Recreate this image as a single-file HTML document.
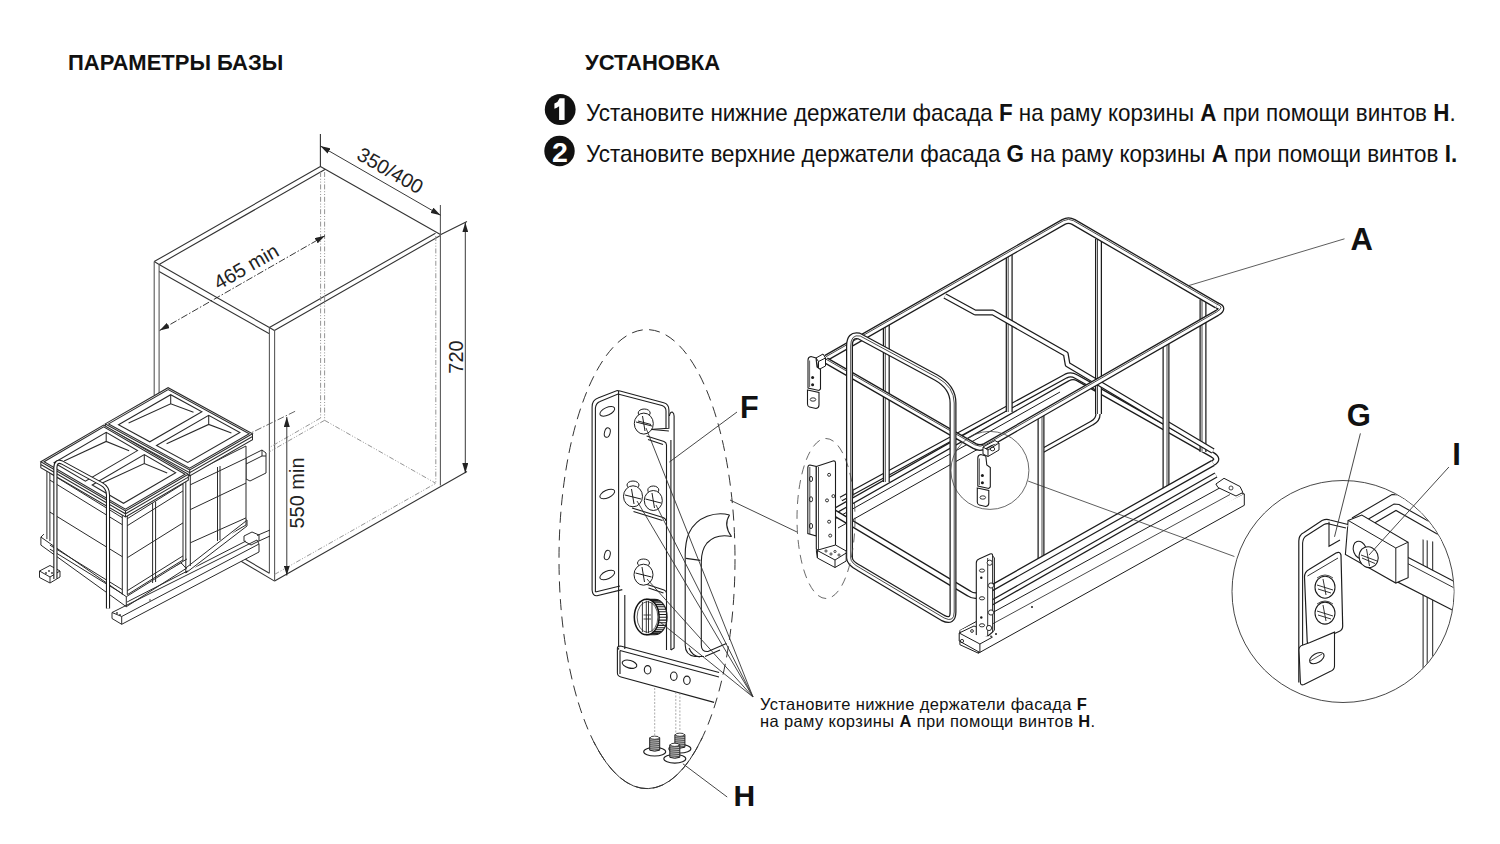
<!DOCTYPE html>
<html><head><meta charset="utf-8">
<style>
html,body{margin:0;padding:0;background:#fff;}
body{width:1500px;height:844px;position:relative;overflow:hidden;font-family:"Liberation Sans",sans-serif;color:#111;}
.t{position:absolute;white-space:nowrap;line-height:1;}
.h{font-weight:bold;font-size:22px;}
.l{font-size:23.2px;transform:scaleX(0.967);transform-origin:0 0;}
svg{position:absolute;left:0;top:0;}
</style></head><body>
<div class="t h" style="left:68px;top:52px;">ПАРАМЕТРЫ БАЗЫ</div>
<div class="t h" style="left:585px;top:52px;">УСТАНОВКА</div>
<div class="t l" style="left:586px;top:101.5px;">Установите нижние держатели фасада <b>F</b> на раму корзины <b>A</b> при помощи винтов <b>H</b>.</div>
<div class="t l" style="left:586px;top:143px;">Установите верхние держатели фасада <b>G</b> на раму корзины <b>A</b> при помощи винтов <b>I.</b></div>
<svg width="1500" height="844" viewBox="0 0 1500 844" font-family="Liberation Sans, sans-serif">
<defs>
<marker id="ar" viewBox="0 0 10 6" refX="10" refY="3" markerWidth="10" markerHeight="6" markerUnits="userSpaceOnUse" orient="auto-start-reverse"><path d="M0,0 L10,3 L0,6z" fill="#222"/></marker>
</defs>
<!-- number circles -->
<circle cx="560.2" cy="109.5" r="15.4" fill="#111"/>
<path d="M559.6,98.2 H564.6 V120.1 H559.1 V106.2 Q557,108 554.4,108.8 V103.6 Q558.3,102 559.6,98.2 Z" fill="#fff"/>
<circle cx="559.5" cy="151" r="15.2" fill="#111"/>
<text x="559.9" y="161.6" font-size="28.5" font-weight="bold" fill="#fff" text-anchor="middle">2</text>

<!-- ============ CABINET ============ -->
<g id="cab" stroke="#333" stroke-width="1.1" fill="none">
<path d="M154.2,261.6 L320.4,166.4 M159.1,264.4 L324.9,169.6 M154.2,261.6 L159.1,264.4 L269.4,327.6 L274.4,330.5 M159.1,271.4 L269.4,333.8
 M269.4,327.6 L435.5,233.2 M274.4,330.5 L440.4,235.5 M320.4,166.4 L440.4,234.5

 M274.6,581.1 L467,471.5
 M274.6,581.1 L239,560 M269.4,573.3 L245,559
 M320.4,134 V166.4
 M440.4,234.8 L467,221.5
"/>
</g>
<g stroke="#5a5a5a" stroke-width="1.1" fill="none"><path d="M154.2,261.6 V395 M159.1,264.4 V395 M269.4,327.6 V573.3 M274.6,330.5 V581.1 M440.4,205 V485.5"/></g>
<g stroke="#8f8f8f" stroke-width="0.95" fill="none" stroke-dasharray="5,1.8,1,1.8,1,1.8">
<path d="M320.6,172 V418 M324.6,172 V420.3 M324.6,420.3 L435.8,483.3 M324.6,420.3 L269.4,451.8 M320.6,418 L269.4,447.5 M274.6,574.4 L435.8,483.3 M435.8,236 V483.3"/>
</g>
<!-- dimensions -->
<g stroke="#222" stroke-width="0.9" fill="none">
<line x1="320.4" y1="146" x2="440.6" y2="215.3" marker-start="url(#ar)" marker-end="url(#ar)"/>
<line x1="465.3" y1="222.4" x2="465.3" y2="473.1" marker-start="url(#ar)" marker-end="url(#ar)"/>
<line x1="286.8" y1="416.9" x2="286.8" y2="575.5" marker-start="url(#ar)" marker-end="url(#ar)"/>
<line x1="159.6" y1="330.5" x2="324.9" y2="235.8" stroke-dasharray="7,2,1.5,2" marker-start="url(#ar)" marker-end="url(#ar)"/>
<path d="M295.1,411.3 L240,438.3" stroke-dasharray="7,2,1.5,2" stroke="#555"/>
</g>
<g fill="#222" font-size="20">
<text transform="translate(389.5,172) rotate(29.8)" text-anchor="middle" dominant-baseline="middle">350/400</text>
<text transform="translate(247,268) rotate(-29.8)" text-anchor="middle" dominant-baseline="middle">465 min</text>
<text transform="translate(457.3,357) rotate(-90)" text-anchor="middle" dominant-baseline="middle">720</text>
<text transform="translate(298.5,493) rotate(-90)" text-anchor="middle" dominant-baseline="middle">550 min</text>
</g>
<path d="M112,612.5 L257,540 L259,544 L121.7,616.5 L121.7,624.3 L112,618.5 Z M112,612.5 L121.7,616.5 M121.7,624.3 L259,552 V544 M127,602 L246,541 M244,536 L252,532 L259,535 L259,541 L251,545 L244,541 Z M257,535.5 L270,530 M259,541 L270,536 M39.5,571 L50,565.5 L60,571 L60,577 L50,583 L39.5,577.5 Z M39.5,571 L50,577 L60,571 M50,577 V583 M246,458 L262,450 L266,453 L266,473 L250,481 L246,479 Z M246,464 L262,456 L266,456 M262,456 V450 M124,596 L246,525 L246,519" fill="#fff" stroke="#2a2a2a" stroke-width="1"/>
<g fill="#333"><circle cx="49" cy="571" r="0.9"/><circle cx="52" cy="573" r="0.9"/><circle cx="46" cy="573" r="0.9"/><circle cx="117" cy="613" r="0.9"/><circle cx="120" cy="615" r="0.9"/><circle cx="150" cy="600" r="0.8"/></g>
<path d="M180.3,470 L190.3,474.0 L246.0,446.0 L246.0,521.0 L190.3,572 L180.3,566Z" fill="#fff" stroke="none"/>
<path d="M190.3,474.0 L246.0,446.0 V521 M190.3,474 V566 M185.8,478 V568 M181.3,480 V564 M190.3,484.8 L246,458.2 M190.3,509.6 L246,483.1 M190.3,542.8 L246,517.9 M181.3,563 L185.8,568 L246,521 M185.8,568 V573 L247,526 V520 M217.5,467 V541 M220,466 V540" fill="none" stroke="#2a2a2a" stroke-width="1"/>
<path d="M105.3,423.9 L168.1,387.7 L252.5,433.7 L252.5,439.7 L189.7,475.9 L105.3,429.9Z" fill="#fff" stroke="none"/>
<path d="M105.3,423.9 L168.1,387.7 L252.5,433.7 L189.7,469.9Z M108.6,423.9 L168.2,389.5 L249.2,433.7 L189.6,468.1Z M105.3,423.9 L105.3,429.9 L189.7,475.9 L252.5,439.7 L252.5,433.7 M105.3,426.7 L189.7,472.7 L252.5,436.5 M189.7,469.9 L189.7,475.9 M118.5,424.8 L170.7,394.7 L201.9,411.8 L149.8,441.8Z M128.6,423.0 L170.7,403.7 L193.5,412.2 M170.7,394.7 L170.7,403.7 M156.5,445.5 L208.7,415.4 L239.9,432.5 L187.8,462.5Z M166.6,443.7 L208.7,424.4 L231.4,432.9 M208.7,415.4 L208.7,424.4" fill="none" stroke="#2a2a2a" stroke-width="1.05"/>
<path d="M46.9,469.1 L125.3,514.7 L183.0,480.9 L183.0,560.9 L125.3,602.7 L42.9,545.1Z" fill="#fff" stroke="none"/>
<path d="M46.9,469.1 V539.1 M49.9,470.1 V541.1 M122.3,514.7 V594.7 M127.3,515.7 V594.7 M183.0,480.9 V560.9 M49.9,470.1 L122.3,514.7 M127.3,515.7 L183.0,480.9 M49.9,473.1 L122.3,517.7 M127.3,518.7 L183.0,483.9 M49.9,480.1 L122.3,524.7 M127.3,525.7 L183.0,490.9 M49.9,512.1 L122.3,556.7 M127.3,557.7 L183.0,522.9 M49.9,545.1 L122.3,589.7 M127.3,590.7 L183.0,555.9 M49.9,549.1 L122.3,593.7 M127.3,594.7 L183.0,559.9 M40.9,537.1 L126.3,596.7 L187.0,558.9 M40.9,537.1 V545.1 L126.3,606.7 L187.0,567.9 M126.3,596.7 V606.7 M43.9,534.1 L40.9,537.1 M152.6,503 V583 M155.6,501.5 V582" fill="none" stroke="#2a2a2a" stroke-width="1"/>
<path d="M40.8,461.7 L103.6,425.0 L188.3,474.3 L188.3,480.3 L125.5,517.0 L40.8,467.7Z" fill="#fff" stroke="none"/>
<path d="M40.8,461.7 L103.6,425.0 L188.3,474.3 L125.5,511.0Z M44.1,461.8 L103.7,426.9 L185.0,474.2 L125.4,509.1Z M40.8,461.7 L40.8,467.7 L125.5,517.0 L188.3,480.3 L188.3,474.3 M40.8,464.5 L125.5,513.8 L188.3,477.1 M125.5,511.0 L125.5,517.0 M54.1,462.8 L106.2,432.4 L137.5,450.6 L85.4,481.1Z M64.1,461.0 L106.2,441.4 L129.1,450.7 M106.2,432.4 L106.2,441.4 M92.2,485.0 L144.3,454.6 L175.7,472.8 L123.5,503.3Z M102.2,483.1 L144.3,463.6 L167.2,472.9 M144.3,454.6 L144.3,463.6" fill="none" stroke="#2a2a2a" stroke-width="1.05"/>
<path d="M55.4,579 V467.5 Q55.7,460 62,462.5 L101.5,484 Q108,487.5 108,495 V608.5" fill="none" stroke="#1e1e1e" stroke-width="4.2" stroke-linejoin="round"/>
<path d="M55.4,579 V467.5 Q55.7,460 62,462.5 L101.5,484 Q108,487.5 108,495 V608.5" fill="none" stroke="#fff" stroke-width="2.0" stroke-linejoin="round"/>
<g id="mid" fill="none" stroke="#1e1e1e" stroke-width="1.1">
<!-- dashed ellipse -->
<ellipse cx="647" cy="559.1" rx="88" ry="229.5" stroke="#333" stroke-width="1" stroke-dasharray="11,6.5"/>
<path d="M593.8,742 A88,229.5 0 0 0 702.1,738" stroke="#333" stroke-width="1" fill="none"/>
<!-- leader to basket ellipse -->
<path d="M730,500 L797,532" stroke="#333" stroke-width="0.9"/>
<!-- back facade profile (C-shape) -->
<g stroke-width="1.1">
<path d="M729.5,515 C716,511.5 697,516 689,533 Q685.2,542 685.2,555 V645 Q685.2,655 695,656.5 L704,656.5" fill="#fff"/>
<path d="M731.5,536.5 Q716,533.5 707,543 Q701.3,550 701.3,562 V645 Q701.3,652 708,651.5 L726.4,643.5"/>
<path d="M729.5,515 Q723,525 731.5,536.5" />
<path d="M686,558.4 L700.3,560.4" />
<path d="M689,648 Q692,656 700,657" />
<path d="M705,656.5 L720,650" />
</g>
<!-- lower bracket body -->
<path d="M624.8,595 V649 M670.9,440 V650" />
<!-- knob -->
<path d="M646.7,599.2 L654.7,599.2 A12.4,17.8 0 0 1 654.7,634.8 L646.7,634.8 Z" fill="#fff" stroke="#1e1e1e" stroke-width="1.1"/>
<path d="M648.9,599.5 L656.9,599.5 M650.7,600.2 L658.7,600.2 M652.5,601.3 L660.5,601.3 M654.2,602.8 L662.2,602.8 M655.6,604.6 L663.6,604.6 M656.9,606.8 L664.9,606.8 M657.8,609.2 L665.8,609.2 M658.6,611.8 L666.6,611.8 M659.0,614.5 L667.0,614.5 M659.1,617.3 L667.1,617.3 M658.9,620.1 L666.9,620.1 M658.4,622.8 L666.4,622.8 M657.6,625.4 L665.6,625.4 M656.6,627.7 L664.6,627.7 M655.3,629.8 L663.3,629.8 M653.8,631.6 L661.8,631.6 M652.1,633.0 L660.1,633.0 M650.3,634.0 L658.3,634.0" stroke="#1e1e1e" stroke-width="1.1"/>
<ellipse cx="646.7" cy="617" rx="12.4" ry="17.8" fill="#fff" stroke="#111" stroke-width="1.5"/>
<ellipse cx="647.5" cy="617" rx="10.4" ry="15.3" fill="none" stroke="#333" stroke-width="0.8"/>
<path d="M642.4,601.8 V632.2 M646.3,600.7 V633.3 M648.5,600.9 V633.1 M652,602.4 V631.6" stroke="#222" stroke-width="0.9"/>
<path d="M643.5,615 H651 M643.5,619 H651" stroke="#222" stroke-width="0.8"/>
<!-- left flange -->
<path d="M592.1,590 V407 Q592.1,400 598,398 L617.2,390.5 L620.1,391 L663.7,402.7 Q668.9,404 668.9,410 V428.3 L652.8,429.3 Q648,428 650,426" stroke-width="1.1" fill="#fff"/>
<path d="M595.4,592 V408 Q596,403 600,401.5 L618,394 L662,405.5 Q666,407 666,411 V428" />
<path d="M618.6,391 V650" stroke-width="1.1"/>
<path d="M592.1,590 Q592.5,596 597,595.8 L622.3,589.6 M595.4,592 L620,586" />
<!-- right flange lower parts -->
<path d="M652,429.5 L668.9,431 M646.6,435.9 L664,441.5 Q666.5,442.5 666.5,445 M648,439.5 L663,444.5" />
<path d="M666.5,445 V650" />
<path d="M632,508 L663,517.5 Q666,518.7 666,521 M633.5,511.5 L662.5,520.5" />
<path d="M647.2,584.6 L664,590 Q666.5,591 666.5,593 M648.5,588 L663.5,593" />
<path d="M669.4,416 Q670,412 672.2,412 Q674.1,413 674.1,416 V648 L670.9,650" />
<!-- slots/holes left flange -->
<g stroke-width="1">
<ellipse cx="607.3" cy="411.3" rx="8" ry="3.8" transform="rotate(-25 607.3 411.3)"/>
<ellipse cx="607.3" cy="432.6" rx="2.8" ry="4.8" transform="rotate(15 607.3 432.6)"/>
<ellipse cx="607.3" cy="494" rx="8" ry="3.8" transform="rotate(-25 607.3 494)"/>
<ellipse cx="607.3" cy="555" rx="2.8" ry="4.8" transform="rotate(15 607.3 555)"/>
<ellipse cx="607.3" cy="575" rx="8" ry="3.8" transform="rotate(-25 607.3 575)"/>
</g>
<!-- screws (phillips) -->
<g stroke-width="1">
<ellipse cx="644.2" cy="413" rx="6" ry="4"/>
<ellipse cx="643.8" cy="423.6" rx="9.5" ry="10.5" fill="#fff"/>
<path d="M636,422 L652,426 M642.5,416 L645,431 M638,421 L651,424.5" />
<ellipse cx="633" cy="485" rx="6" ry="4"/>
<ellipse cx="633" cy="496.3" rx="9.5" ry="10.5" fill="#fff"/>
<path d="M625,495 L641,499 M631.5,489 L634,504" />
<ellipse cx="653.3" cy="490" rx="5.5" ry="4"/>
<ellipse cx="653.3" cy="500.5" rx="9" ry="10" fill="#fff"/>
<path d="M645.5,499 L661,503 M652,493 L654.5,508" />
<ellipse cx="643.5" cy="563" rx="6" ry="4"/>
<ellipse cx="643.5" cy="574.7" rx="9.5" ry="10.5" fill="#fff"/>
<path d="M635.5,573 L651.5,577 M642,567 L644.5,582" />
</g>
<!-- bottom plate -->
<path d="M620.5,646 L719.1,672.5 M617.4,649 Q617,646 620.5,646 M617.4,649 V673 Q617.4,676 621,677 L714.1,702.4" stroke-width="1.1" fill="#fff"/>
<path d="M620,650.5 L719,677 M620,650.5 V674" />
<ellipse cx="629.5" cy="664.2" rx="7.5" ry="3.8" transform="rotate(15 629.5 664.2)"/>
<ellipse cx="647.6" cy="669.8" rx="3.3" ry="4.2"/>
<ellipse cx="673.8" cy="676.2" rx="3.3" ry="4.2"/>
<ellipse cx="686.9" cy="680.3" rx="3.3" ry="4.2"/>
<!-- dotted screw axes -->
<path d="M654.7,688 V735 M675.8,692 V740 M679.9,693 V731" stroke="#888" stroke-width="0.7" stroke-dasharray="2,1.5"/>
<!-- screws H -->
<ellipse cx="679.9" cy="748.7" rx="11" ry="4.3" fill="#fff" stroke="#1e1e1e" stroke-width="1.1"/>
<path d="M674.9,747.2 V734.7 Q679.9,732.2 684.9,734.7 V747.2 Q679.9,749.2 674.9,747.2 Z" fill="#bdbdbd" stroke="#1e1e1e" stroke-width="1"/>
<path d="M674.9,735.7 L684.9,736.5 M674.9,737.7 L684.9,738.5 M674.9,739.7 L684.9,740.5 M674.9,741.7 L684.9,742.5 M674.9,743.7 L684.9,744.5 M674.9,745.7 L684.9,746.5" stroke="#333" stroke-width="0.8"/>
<ellipse cx="679.9" cy="734.7" rx="4.3" ry="1.6" fill="#fff" stroke="#1e1e1e" stroke-width="0.8"/>
<ellipse cx="654.7" cy="751.7" rx="11" ry="4.3" fill="#fff" stroke="#1e1e1e" stroke-width="1.1"/>
<path d="M649.7,750.2 V737.7 Q654.7,735.2 659.7,737.7 V750.2 Q654.7,752.2 649.7,750.2 Z" fill="#bdbdbd" stroke="#1e1e1e" stroke-width="1"/>
<path d="M649.7,738.7 L659.7,739.5 M649.7,740.7 L659.7,741.5 M649.7,742.7 L659.7,743.5 M649.7,744.7 L659.7,745.5 M649.7,746.7 L659.7,747.5 M649.7,748.7 L659.7,749.5" stroke="#333" stroke-width="0.8"/>
<ellipse cx="654.7" cy="737.7" rx="4.3" ry="1.6" fill="#fff" stroke="#1e1e1e" stroke-width="0.8"/>
<ellipse cx="674.8" cy="758.8" rx="11" ry="4.3" fill="#fff" stroke="#1e1e1e" stroke-width="1.1"/>
<path d="M669.8,757.3 V744.8 Q674.8,742.3 679.8,744.8 V757.3 Q674.8,759.3 669.8,757.3 Z" fill="#bdbdbd" stroke="#1e1e1e" stroke-width="1"/>
<path d="M669.8,745.8 L679.8,746.5999999999999 M669.8,747.8 L679.8,748.5999999999999 M669.8,749.8 L679.8,750.5999999999999 M669.8,751.8 L679.8,752.5999999999999 M669.8,753.8 L679.8,754.5999999999999 M669.8,755.8 L679.8,756.5999999999999" stroke="#333" stroke-width="0.8"/>
<ellipse cx="674.8" cy="744.8" rx="4.3" ry="1.6" fill="#fff" stroke="#1e1e1e" stroke-width="0.8"/>
<!-- leaders -->
<g stroke="#333" stroke-width="0.9">
<path d="M669.3,462.1 L737,412"/>
<path d="M682.9,763.8 L727.2,797"/>
<path d="M646,428 L753,697 M637,501 L753,697 M656,505 L753,697 M647,579 L753,697 M660,622 L753,697"/>
</g>
</g>
<g fill="#111" font-family="Liberation Sans, sans-serif">
<text x="740" y="418.2" font-size="30.5" font-weight="bold">F</text>
<text x="733.5" y="806.3" font-size="30" font-weight="bold">H</text>
<text x="760" y="709.8" font-size="16.5" letter-spacing="0.37">Установите нижние держатели фасада <tspan font-weight="bold">F</tspan></text>
<text x="760" y="727.3" font-size="16.5" letter-spacing="0.37">на раму корзины <tspan font-weight="bold">A</tspan> при помощи винтов <tspan font-weight="bold">H</tspan>.</text>
</g>

<path d="M833,512 L1068,378.5 Q1073,376 1078,378.5 L1212,454.5 Q1220,459 1213,463" fill="none" stroke="#1c1c1c" stroke-width="6.21" stroke-linejoin="round" stroke-linecap="butt"/>
<path d="M833,512 L1068,378.5 Q1073,376 1078,378.5 L1212,454.5 Q1220,459 1213,463" fill="none" stroke="#fff" stroke-width="3.71" stroke-linejoin="round" stroke-linecap="butt"/>
<path d="M841,499 L1066,376 Q1071,373.5 1076,376.5 L1100,390" fill="none" stroke="#1c1c1c" stroke-width="5.40" stroke-linejoin="round" stroke-linecap="butt"/>
<path d="M841,499 L1066,376 Q1071,373.5 1076,376.5 L1100,390" fill="none" stroke="#fff" stroke-width="2.90" stroke-linejoin="round" stroke-linecap="butt"/>
<path d="M1098,414 Q1098,420 1092,423 L1040,452" fill="none" stroke="#1c1c1c" stroke-width="5.40" stroke-linejoin="round" stroke-linecap="butt"/>
<path d="M1098,414 Q1098,420 1092,423 L1040,452" fill="none" stroke="#fff" stroke-width="2.90" stroke-linejoin="round" stroke-linecap="butt"/>
<path d="M886.3,324 V482" fill="none" stroke="#1c1c1c" stroke-width="7.02" stroke-linejoin="round" stroke-linecap="butt"/>
<path d="M886.3,324 V482" fill="none" stroke="#fff" stroke-width="4.52" stroke-linejoin="round" stroke-linecap="butt"/>
<path d="M886.3,324 V482" transform="translate(-1,0)" fill="none" stroke="#1c1c1c" stroke-width="0.8" stroke-linejoin="round"/>
<path d="M1009.2,255 V412" fill="none" stroke="#1c1c1c" stroke-width="7.02" stroke-linejoin="round" stroke-linecap="butt"/>
<path d="M1009.2,255 V412" fill="none" stroke="#fff" stroke-width="4.52" stroke-linejoin="round" stroke-linecap="butt"/>
<path d="M1009.2,255 V412" transform="translate(-1,0)" fill="none" stroke="#1c1c1c" stroke-width="0.8" stroke-linejoin="round"/>
<path d="M1098.5,239 V414" fill="none" stroke="#1c1c1c" stroke-width="7.02" stroke-linejoin="round" stroke-linecap="butt"/>
<path d="M1098.5,239 V414" fill="none" stroke="#fff" stroke-width="4.52" stroke-linejoin="round" stroke-linecap="butt"/>
<path d="M1098.5,239 V414" transform="translate(-1,0)" fill="none" stroke="#1c1c1c" stroke-width="0.8" stroke-linejoin="round"/>
<path d="M1203,299.6 V452" fill="none" stroke="#1c1c1c" stroke-width="7.02" stroke-linejoin="round" stroke-linecap="butt"/>
<path d="M1203,299.6 V452" fill="none" stroke="#fff" stroke-width="4.52" stroke-linejoin="round" stroke-linecap="butt"/>
<path d="M1203,299.6 V452" transform="translate(-1,0)" fill="none" stroke="#1c1c1c" stroke-width="0.8" stroke-linejoin="round"/>
<path d="M826,358 L1063.5,222 Q1068.5,219.3 1073.5,222 L1217,305.5" fill="none" stroke="#1c1c1c" stroke-width="6.75" stroke-linejoin="round" stroke-linecap="butt"/>
<path d="M826,358 L1063.5,222 Q1068.5,219.3 1073.5,222 L1217,305.5" fill="none" stroke="#fff" stroke-width="4.25" stroke-linejoin="round" stroke-linecap="butt"/>
<path d="M826,358 L1063.5,222 Q1068.5,219.3 1073.5,222 L1217,305.5" transform="translate(0,-1.3)" fill="none" stroke="#1c1c1c" stroke-width="0.8" stroke-linejoin="round"/>
<path d="M944.9,296 L975.1,312.5 L992.9,312.5 L1065.8,354 L1067.6,364.5 L1213,451" fill="none" stroke="#1c1c1c" stroke-width="5.94" stroke-linejoin="round" stroke-linecap="butt"/>
<path d="M944.9,296 L975.1,312.5 L992.9,312.5 L1065.8,354 L1067.6,364.5 L1213,451" fill="none" stroke="#fff" stroke-width="3.44" stroke-linejoin="round" stroke-linecap="butt"/>
<path d="M833,520 L1060,392 M838,528 L1065,400" fill="none" stroke="#1c1c1c" stroke-width="1" />
<path d="M959.9,630.5 L1224.4,485.4 L1244.3,494 L978.4,640.4 Z" fill="#fff" stroke="#1c1c1c" stroke-width="1"/>
<path d="M959.9,630.5 V644.7 L978.4,653.2 L1244.3,505.3 V494 M978.4,640.4 V653.2" fill="#fff" stroke="#1c1c1c" stroke-width="1"/>
<path d="M985,628 L1230,494.5" fill="none" stroke="#1c1c1c" stroke-width="0.8" />
<path d="M1215.9,484 L1224,478.3 L1240,486.5 L1242.9,492.5 L1236,496 L1218,487.5 Z" fill="#fff" stroke="#1c1c1c" stroke-width="1"/>
<circle cx="1231" cy="488" r="2" fill="none" stroke="#1c1c1c" stroke-width="0.8"/>
<circle cx="1032" cy="607" r="1" fill="#1c1c1c"/>
<circle cx="991" cy="636.5" r="1" fill="#1c1c1c"/>
<circle cx="996" cy="634" r="1" fill="#1c1c1c"/>
<path d="M986,606 L1216,475" fill="none" stroke="#1c1c1c" stroke-width="5.67" stroke-linejoin="round" stroke-linecap="butt"/>
<path d="M986,606 L1216,475" fill="none" stroke="#fff" stroke-width="3.17" stroke-linejoin="round" stroke-linecap="butt"/>
<path d="M1041,413.6 V562" fill="none" stroke="#1c1c1c" stroke-width="7.02" stroke-linejoin="round" stroke-linecap="butt"/>
<path d="M1041,413.6 V562" fill="none" stroke="#fff" stroke-width="4.52" stroke-linejoin="round" stroke-linecap="butt"/>
<path d="M1041,413.6 V562" transform="translate(1,0)" fill="none" stroke="#1c1c1c" stroke-width="0.8" stroke-linejoin="round"/>
<path d="M1166,342 V490" fill="none" stroke="#1c1c1c" stroke-width="7.02" stroke-linejoin="round" stroke-linecap="butt"/>
<path d="M1166,342 V490" fill="none" stroke="#fff" stroke-width="4.52" stroke-linejoin="round" stroke-linecap="butt"/>
<path d="M1166,342 V490" transform="translate(1,0)" fill="none" stroke="#1c1c1c" stroke-width="0.8" stroke-linejoin="round"/>
<path d="M833,512 L969,593.5 Q975,597.5 981,594 L1213,463" fill="none" stroke="#1c1c1c" stroke-width="6.75" stroke-linejoin="round" stroke-linecap="butt"/>
<path d="M833,512 L969,593.5 Q975,597.5 981,594 L1213,463" fill="none" stroke="#fff" stroke-width="4.25" stroke-linejoin="round" stroke-linecap="butt"/>
<path d="M826,360.5 L974.5,446 Q980,449 985.5,446 L1217,313 Q1225,308 1217,305.5" fill="none" stroke="#1c1c1c" stroke-width="6.75" stroke-linejoin="round" stroke-linecap="butt"/>
<path d="M826,360.5 L974.5,446 Q980,449 985.5,446 L1217,313 Q1225,308 1217,305.5" fill="none" stroke="#fff" stroke-width="4.25" stroke-linejoin="round" stroke-linecap="butt"/>
<path d="M826,360.5 L974.5,446 Q980,449 985.5,446 L1217,313 Q1225,308 1217,305.5" transform="translate(0,-1.3)" fill="none" stroke="#1c1c1c" stroke-width="0.8" stroke-linejoin="round"/>
<path d="M849.5,558 V346 Q849.5,334 859,336 L936,377.5 Q953,387 953,403 V612 Q953,623 943,618 L859,568 Q849.5,563 849.5,558 Z" fill="none" stroke="#1c1c1c" stroke-width="7.02" stroke-linejoin="round" stroke-linecap="butt"/>
<path d="M849.5,558 V346 Q849.5,334 859,336 L936,377.5 Q953,387 953,403 V612 Q953,623 943,618 L859,568 Q849.5,563 849.5,558 Z" fill="none" stroke="#fff" stroke-width="4.52" stroke-linejoin="round" stroke-linecap="butt"/>
<path d="M849.5,558 V346 Q849.5,334 859,336 L936,377.5 Q953,387 953,403 V612 Q953,623 943,618 L859,568 Q849.5,563 849.5,558 Z" transform="translate(1.2,0)" fill="none" stroke="#1c1c1c" stroke-width="0.8" stroke-linejoin="round"/>
<path d="M816,358 L823,354 L825.5,358 V366 L818,370 Z M816,358 L818.5,361.5 L825.5,358 M818.5,361.5 V370" fill="#fff" stroke="#1c1c1c" stroke-width="1"/>
<path d="M808,388 V360 Q808,357 811,356.5 L816,358 L817,367 L820.5,369.5 V389 L819,390.5 Z" fill="#fff" stroke="#1c1c1c" stroke-width="1.1"/>
<path d="M809.6,387 V360.5" fill="none" stroke="#1c1c1c" stroke-width="0.7"/>
<path d="M807.5,390 L819,392.5 V405 Q819,408 816,408.5 L809.5,407 Q807.5,406.5 807.5,404 Z" fill="#fff" stroke="#1c1c1c" stroke-width="1.1"/>
<circle cx="812.6" cy="377.5" r="1.5" fill="#1c1c1c"/><circle cx="812.6" cy="384.7" r="1.5" fill="#1c1c1c"/>
<ellipse cx="813" cy="399.5" rx="2.8" ry="1.7" fill="none" stroke="#1c1c1c" stroke-width="0.9"/>
<path d="M977.8,486 V458 Q977.8,455 980.8,454.5 L985.8,456 L986.8,465 L990.3,467.5 V487 L988.8,488.5 Z" fill="#fff" stroke="#1c1c1c" stroke-width="1.1"/>
<path d="M979.4,485 V458.5" fill="none" stroke="#1c1c1c" stroke-width="0.7"/>
<path d="M977.3,488 L988.8,490.5 V503 Q988.8,506 985.8,506.5 L979.3,505 Q977.3,504.5 977.3,502 Z" fill="#fff" stroke="#1c1c1c" stroke-width="1.1"/>
<circle cx="982.4" cy="475.5" r="1.5" fill="#1c1c1c"/><circle cx="982.4" cy="482.7" r="1.5" fill="#1c1c1c"/>
<ellipse cx="982.8" cy="497.5" rx="2.8" ry="1.7" fill="none" stroke="#1c1c1c" stroke-width="0.9"/>
<path d="M983,447 L995,440.5 L999,443 V450 L988,456.5 L983,454 Z M983,447 L988,450 L999,443 M988,450 V456.5" fill="#fff" stroke="#1c1c1c" stroke-width="1"/>
<ellipse cx="992.5" cy="449" rx="2.2" ry="1.8" fill="none" stroke="#1c1c1c" stroke-width="0.9"/>
<path d="M807.8,468 Q807.8,465 810,465 L816.3,466.5 V536 L807.8,533.5 Z" fill="#fff" stroke="#1c1c1c" stroke-width="1.1"/>
<path d="M816.3,466.5 L833,461 Q835.5,460.5 835.5,463 V546 L818.5,551 L816.3,549 Z" fill="#fff" stroke="#1c1c1c" stroke-width="1.1"/>
<path d="M818.5,467 V551 M809.8,467 V534" fill="none" stroke="#1c1c1c" stroke-width="0.8"/>
<ellipse cx="811" cy="479" rx="1.6" ry="2.6" fill="none" stroke="#1c1c1c" stroke-width="0.9"/>
<ellipse cx="811" cy="499.3" rx="1.6" ry="2.6" fill="none" stroke="#1c1c1c" stroke-width="0.9"/>
<ellipse cx="811" cy="526" rx="1.6" ry="2.6" fill="none" stroke="#1c1c1c" stroke-width="0.9"/>
<circle cx="829.1" cy="474.8" r="1.5" fill="none" stroke="#1c1c1c" stroke-width="0.9"/>
<circle cx="827" cy="500.4" r="1.5" fill="none" stroke="#1c1c1c" stroke-width="0.9"/>
<circle cx="833.4" cy="496.1" r="1.5" fill="none" stroke="#1c1c1c" stroke-width="0.9"/>
<circle cx="829.1" cy="521.7" r="1.5" fill="none" stroke="#1c1c1c" stroke-width="0.9"/>
<circle cx="830.2" cy="535.6" r="1.5" fill="none" stroke="#1c1c1c" stroke-width="0.9"/>
<path d="M816.3,550.5 L835.5,545 L846.2,551 L846.2,561 L835,567.5 L817.4,558 Z M817.4,558 V550.5 M835,567.5 V560 L817.4,550.5 M835,560 L846.2,553" fill="#fff" stroke="#1c1c1c" stroke-width="1"/>
<circle cx="826" cy="551" r="1.1" fill="none" stroke="#1c1c1c" stroke-width="0.8"/>
<circle cx="831" cy="554" r="1.1" fill="none" stroke="#1c1c1c" stroke-width="0.8"/>
<circle cx="835" cy="551.5" r="1.1" fill="none" stroke="#1c1c1c" stroke-width="0.8"/>
<circle cx="839" cy="555" r="1.1" fill="none" stroke="#1c1c1c" stroke-width="0.8"/>
<path d="M976.3,563 Q976.3,560 979,559 L990,554 Q992.7,553 992.7,556 V632 L988,636 L976.3,640 Z" fill="#fff" stroke="#1c1c1c" stroke-width="1.1"/>
<path d="M987.7,558 V636 M992.7,556 L994.5,558 V630 L992.7,632" fill="none" stroke="#1c1c1c" stroke-width="0.9"/>
<ellipse cx="982" cy="570.6" rx="2.6" ry="1.6" fill="none" stroke="#1c1c1c" stroke-width="0.9"/>
<ellipse cx="982" cy="598.3" rx="2.6" ry="1.6" fill="none" stroke="#1c1c1c" stroke-width="0.9"/>
<ellipse cx="982" cy="625.3" rx="2.6" ry="1.6" fill="none" stroke="#1c1c1c" stroke-width="0.9"/>
<circle cx="981.3" cy="577.7" r="1.2" fill="#1c1c1c"/>
<circle cx="981.3" cy="617.5" r="1.2" fill="#1c1c1c"/>
<circle cx="989.7" cy="562.7" r="2.6" fill="#fff" stroke="#1c1c1c" stroke-width="0.9"/>
<circle cx="991" cy="585.5" r="2.6" fill="#fff" stroke="#1c1c1c" stroke-width="0.9"/>
<circle cx="991" cy="612.5" r="2.6" fill="#fff" stroke="#1c1c1c" stroke-width="0.9"/>
<circle cx="989" cy="628" r="2.6" fill="#fff" stroke="#1c1c1c" stroke-width="0.9"/>
<path d="M959.2,633 L974,626 L976.3,627 M959.2,633 L979.9,644 L992.7,637 M959.2,633 V641 L979.9,652.5 V644" fill="#fff" stroke="#1c1c1c" stroke-width="1"/>
<circle cx="962" cy="641" r="1.6" fill="none" stroke="#1c1c1c" stroke-width="0.9"/><circle cx="972" cy="631" r="1.4" fill="none" stroke="#1c1c1c" stroke-width="0.9"/>
<circle cx="989.9" cy="470.4" r="39" fill="none" stroke="#444" stroke-width="0.8"/>
<ellipse cx="826" cy="518.5" rx="29" ry="80" fill="none" stroke="#444" stroke-width="0.8" stroke-dasharray="9,6"/>
<path d="M1028.2,481.1 L1234.4,556.5" fill="none" stroke="#333" stroke-width="0.8" />
<path d="M1188.4,285.7 L1344.5,238.8" fill="none" stroke="#333" stroke-width="0.8" />
<text x="1350.5" y="250.4" font-size="31" font-weight="bold" fill="#111" font-family="Liberation Sans, sans-serif">A</text>
<defs><clipPath id="bigc"><circle cx="1343" cy="591.5" r="110.5"/></clipPath></defs>
<circle cx="1343" cy="591.5" r="111" fill="#fff" stroke="#333" stroke-width="0.9"/>
<g clip-path="url(#bigc)" fill="none" stroke="#1e1e1e" stroke-width="1.1">
<!-- vertical wires right -->
<path d="M1423.1,524 V705 M1427.2,520 V705 M1432.7,522 V705" stroke-width="1"/>
<!-- upper rail going up-right then down-right -->
<path d="M1352,518 L1392,494.5 L1400,495 L1460,529 M1360,524 L1394,504 L1399,504.5 L1460,539 M1366,528 L1396,510.5 L1460,547" fill="#fff"/>
<!-- main horizontal bar -->
<path d="M1397.2,551.8 L1460,584.5 V614 L1397.2,581.8 Z" fill="#fff"/>
<path d="M1397.2,558 L1460,591" stroke-width="0.9"/>
<!-- clamp block -->
<path d="M1348.1,520.4 L1361.8,515 L1408.1,542.2 V577.7 L1395.8,583.1 L1345.4,554.5 Z" fill="#fff" stroke-width="1.1"/>
<path d="M1348.1,520.4 L1395.8,548 V583.1 M1395.8,548 L1408.1,542.2" stroke-width="1"/>
<!-- screw I -->
<ellipse cx="1360" cy="550" rx="6.5" ry="9" transform="rotate(-20 1360 550)"/>
<ellipse cx="1368.6" cy="557.2" rx="9.5" ry="10.5" fill="#fff" transform="rotate(-20 1368.6 557.2)"/>
<path d="M1361,555 L1377,561 M1366.5,549 L1369.5,566 M1362,558 L1375,563.5" stroke-width="0.9"/>
<!-- bracket G back flange -->
<path d="M1298.8,682.6 V541 Q1298.8,535 1304,532.5 L1322,520.5 Q1326.3,518.5 1330,520 L1348,524.5" fill="#fff" stroke-width="1.2"/>
<path d="M1302.6,680 V543 Q1303,538 1306,536 L1324,524.5 Q1327,523 1329.5,524" />
<path d="M1329,521.8 V546.3 L1340,540 M1329,546.3 L1334,543.5" />
<path d="M1329,524 L1346,528" />
<!-- front plate -->
<path d="M1304.5,577 Q1304.5,572 1309,569.5 L1336,553 Q1340,551 1341,555 L1342.7,626 Q1342.7,630 1339,631.5 L1311,644 Q1307.2,645.5 1307.2,641 Z" fill="#fff" stroke-width="1.2"/>
<path d="M1307.5,576 L1338,558" stroke-width="0.9"/>
<!-- lower tab -->
<path d="M1299,650 Q1299,646 1303,645 L1310,642.5 L1334.5,632.2 V666 Q1334.5,670 1330,671.5 L1304,684.5 Q1300.4,686 1300.4,682 Z" fill="#fff" stroke-width="1.1"/>

<ellipse cx="1316.8" cy="658.1" rx="8" ry="4.5" transform="rotate(-30 1316.8 658.1)"/>
<path d="M1310,661 L1322,654" stroke-width="0.8"/>
<!-- screws on plate -->
<ellipse cx="1325" cy="587.2" rx="10" ry="11" fill="#fff"/>
<path d="M1317,585 L1333,590 M1323,579 L1326,595 M1318,589 L1331,593" stroke-width="0.9"/>
<ellipse cx="1325" cy="613.1" rx="10" ry="11" fill="#fff"/>
<path d="M1317,611 L1333,616 M1323,605 L1326,621 M1318,615 L1331,619" stroke-width="0.9"/>
<path d="M1317,578 Q1325,572 1333,578 M1317,604 Q1325,598 1333,604" stroke-width="0.8"/>
</g>
<!-- leaders -->
<g stroke="#333" stroke-width="0.9" fill="none">
<path d="M1360.4,433.4 L1334.5,536.8"/>
<path d="M1448.9,467 L1369,555"/>
</g>
<g fill="#111" font-family="Liberation Sans, sans-serif" font-weight="bold" font-size="31">
<text x="1346.8" y="426">G</text>
<text x="1452.3" y="464.9">I</text>
</g>

</svg>
</body></html>
